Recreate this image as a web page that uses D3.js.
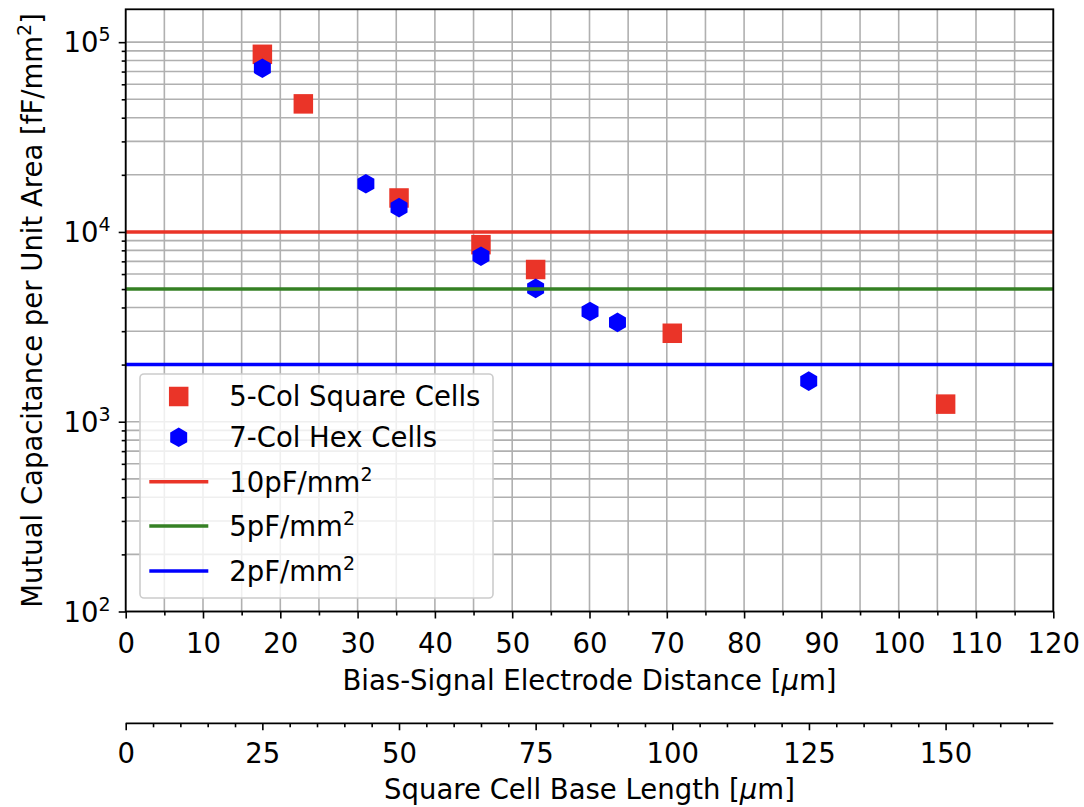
<!DOCTYPE html>
<html>
<head>
<meta charset="utf-8">
<script src="https://cdn.jsdelivr.net/npm/d3@7"></script>
<style>
  html, body { margin: 0; padding: 0; background: #ffffff; }
  svg { display: block; }
  text { font-family: "DejaVu Sans", sans-serif; fill: #000; }
</style>
</head>
<body>
<svg id="chart" width="1084" height="807"></svg>
<script>
// ---------------- data ----------------
const squareX = [17.68, 22.98, 35.36, 45.96, 53.03, 70.71, 106.07];
const squareY = [86300, 47300, 15100, 8570, 6340, 2925, 1238];
const hexX = [17.68, 31.07, 35.36, 45.96, 53.03, 60.07, 63.62, 88.36];
const hexY = [72900, 17950, 13430, 7450, 5040, 3810, 3340, 1636];
const refNames = ["10pF/mm", "5pF/mm", "2pF/mm"];
const refValues = [10000, 5000, 2000];
const refColors = ["#ea3428", "#358024", "#0000ff"];
const seriesNames = ["5-Col Square Cells", "7-Col Hex Cells"];
const xTicks = [0, 10, 20, 30, 40, 50, 60, 70, 80, 90, 100, 110, 120];
const x2Ticks = [0, 25, 50, 75, 100, 125, 150];
const yMajor = [100, 1000, 10000, 100000];
const yExp = [2, 3, 4, 5];

// ---------------- layout ----------------
const L = 125.7, R = 1053.3, T = 9.3, B = 611.5;
const FS = 27.5, FSUP = 19;
const svg = d3.select("#chart");

const x = d3.scaleLinear().domain([0, 120]).range([L, R]);
const x2 = d3.scaleLinear().domain([0, 120 * Math.SQRT2]).range([L, R]);
const y = d3.scaleLog().domain([100, 149000]).range([B, T]);

const yMinor = [];
for (let e = 2; e <= 5; e++) for (let m = 2; m <= 9; m++) {
  const v = m * Math.pow(10, e);
  if (v <= y.domain()[1]) yMinor.push(v);
}
const xMinor = d3.range(0, 121, 5);
const x2Minor = d3.range(0, 120 * Math.SQRT2, 5);

// ---------------- grid ----------------
const grid = svg.append("g");
grid.selectAll("line.gy").data(yMajor.concat(yMinor)).join("line")
  .attr("x1", L).attr("x2", R)
  .attr("y1", d => y(d)).attr("y2", d => y(d))
  .attr("stroke", "#b0b0b0").attr("stroke-width", 1.6);
grid.selectAll("line.gx").data(xMinor).join("line")
  .attr("x1", d => x(d)).attr("x2", d => x(d))
  .attr("y1", T).attr("y2", B)
  .attr("stroke", "#b0b0b0").attr("stroke-width", 1.6);

// ---------------- markers ----------------
const sq = 19.5;
svg.append("g").selectAll("rect").data(squareX.map((v, i) => [v, squareY[i]])).join("rect")
  .attr("x", d => x(d[0]) - sq / 2).attr("y", d => y(d[1]) - sq / 2)
  .attr("width", sq).attr("height", sq)
  .attr("fill", refColors[0]);

const hr = 9.8;
function hexPath(cx, cy, r) {
  const pts = d3.range(6).map(k => {
    const a = -Math.PI / 2 + k * Math.PI / 3;
    return [cx + r * Math.cos(a), cy + r * Math.sin(a)];
  });
  return "M" + pts.map(p => p.join(",")).join("L") + "Z";
}
svg.append("g").selectAll("path").data(hexX.map((v, i) => [v, hexY[i]])).join("path")
  .attr("d", d => hexPath(x(d[0]), y(d[1]), hr))
  .attr("fill", "#0000ff");

// ---------------- reference lines ----------------
svg.append("g").selectAll("line").data(refValues).join("line")
  .attr("x1", L).attr("x2", R)
  .attr("y1", d => y(d)).attr("y2", d => y(d))
  .attr("stroke", (d, i) => refColors[i]).attr("stroke-width", 3.5);

// ---------------- spines ----------------
svg.append("rect").attr("x", L).attr("y", T).attr("width", R - L).attr("height", B - T)
  .attr("fill", "none").attr("stroke", "#000").attr("stroke-width", 1.8);

// ---------------- axes ----------------
function styleAxis(g) {
  g.selectAll(".domain").remove();
  g.selectAll(".tick line").attr("stroke", "#000").attr("stroke-width", 1.6);
}
function styleLabels(g, baselineOffset) {
  g.selectAll(".tick text")
    .attr("font-size", FS).attr("font-family", "DejaVu Sans").attr("fill", "#000")
    .attr("y", baselineOffset).attr("dy", 0);
}
// x primary
const gx = svg.append("g").attr("transform", `translate(0,${B})`)
  .call(d3.axisBottom(x).tickValues(xTicks).tickSize(7).tickFormat(d3.format("d")));
styleAxis(gx);
styleLabels(gx, 653 - B);
const gxm = svg.append("g").attr("transform", `translate(0,${B})`)
  .call(d3.axisBottom(x).tickValues(xMinor.filter(v => v % 10 !== 0)).tickSize(4).tickFormat(""));
styleAxis(gxm);

// y axis
const gy = svg.append("g").attr("transform", `translate(${L},0)`)
  .call(d3.axisLeft(y).tickValues(yMajor).tickSize(7).tickFormat(""));
styleAxis(gy);
const gym = svg.append("g").attr("transform", `translate(${L},0)`)
  .call(d3.axisLeft(y).tickValues(yMinor).tickSize(4).tickFormat(""));
styleAxis(gym);
const ylab = svg.append("g").selectAll("text").data(yMajor).join("text")
  .attr("x", L - 15).attr("y", d => y(d) + 10)
  .attr("text-anchor", "end").attr("font-size", FS);
ylab.append("tspan").text("10");
ylab.append("tspan").attr("dy", -11).attr("font-size", FSUP).text((d, i) => yExp[i]);

// secondary x axis
const Y2 = 723.3;
const g2 = svg.append("g").attr("transform", `translate(0,${Y2})`)
  .call(d3.axisBottom(x2).tickValues(x2Ticks).tickSize(7).tickFormat(d3.format("d")));
styleAxis(g2);
styleLabels(g2, 763 - Y2);
const g2m = svg.append("g").attr("transform", `translate(0,${Y2})`)
  .call(d3.axisBottom(x2).tickValues(x2Minor.filter(v => v % 25 !== 0)).tickSize(4).tickFormat(""));
styleAxis(g2m);
svg.append("line").attr("x1", L).attr("x2", R).attr("y1", Y2).attr("y2", Y2)
  .attr("stroke", "#000").attr("stroke-width", 1.8);

// axis labels
const xl = svg.append("text").attr("x", (L + R) / 2).attr("y", 690)
  .attr("text-anchor", "middle").attr("font-size", FS);
xl.append("tspan").text("Bias-Signal Electrode Distance [");
xl.append("tspan").attr("font-style", "italic").text("μ");
xl.append("tspan").text("m]");

const xl2 = svg.append("text").attr("x", (L + R) / 2).attr("y", 799)
  .attr("text-anchor", "middle").attr("font-size", FS);
xl2.append("tspan").text("Square Cell Base Length [");
xl2.append("tspan").attr("font-style", "italic").text("μ");
xl2.append("tspan").text("m]");

const yl = svg.append("text")
  .attr("transform", `translate(42,${(T + B) / 2}) rotate(-90)`)
  .attr("text-anchor", "middle").attr("font-size", FS);
yl.append("tspan").text("Mutual Capacitance per Unit Area [fF/mm");
yl.append("tspan").attr("dy", -11).attr("font-size", FSUP).text("2");
yl.append("tspan").attr("dy", 11).text("]");

// ---------------- legend ----------------
const lg = svg.append("g");
lg.append("rect").attr("x", 140).attr("y", 374).attr("width", 353).attr("height", 224)
  .attr("rx", 4).attr("fill", "#ffffff").attr("fill-opacity", 0.8)
  .attr("stroke", "#cccccc").attr("stroke-width", 1.6);
const mx = 178.7, tx = 229.3;
const rowsY = [396.5, 437.3, 481.7, 526, 571];
lg.append("rect").attr("x", mx - sq / 2).attr("y", rowsY[0] - sq / 2)
  .attr("width", sq).attr("height", sq).attr("fill", refColors[0]);
lg.append("path").attr("d", hexPath(mx, rowsY[1], hr)).attr("fill", "#0000ff");
lg.selectAll("text.s").data(seriesNames).join("text")
  .attr("x", tx).attr("y", (d, i) => rowsY[i] + 9.5).attr("font-size", FS).text(d => d);
refNames.forEach((n, i) => {
  const ry = rowsY[i + 2];
  lg.append("line").attr("x1", 149.3).attr("x2", 208.3).attr("y1", ry).attr("y2", ry)
    .attr("stroke", refColors[i]).attr("stroke-width", 3.5);
  const t = lg.append("text").attr("x", tx).attr("y", ry + 10).attr("font-size", FS);
  t.append("tspan").text(n);
  t.append("tspan").attr("dy", -11).attr("font-size", FSUP).text("2");
});
</script>
</body>
</html>
